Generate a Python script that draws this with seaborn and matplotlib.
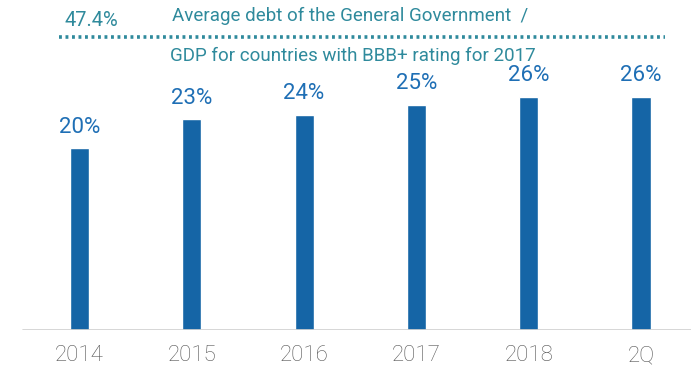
import matplotlib
matplotlib.use('Agg')
import matplotlib.pyplot as plt
import seaborn as sns
import pandas as pd

periods = ['2014', '2015', '2016', '2017', '2018', '2Q']
debt_share = [20.1, 23.3, 23.8, 24.9, 25.8, 25.8]
value_labels = ['20%', '23%', '24%', '25%', '26%', '26%']
bbb_level = 32.4
bbb_label = '47.4%'
bbb_text_top = 'Average debt of the General Government  /'
bbb_text_bottom = 'GDP for countries with BBB+ rating for 2017'

bar_color = '#1565a6'
label_color = '#1f6fb5'
teal = '#2f8a9c'

sns.set_style('white')
plt.rcParams['font.family'] = ['Roboto', 'DejaVu Sans']

df = pd.DataFrame({'period': periods, 'share': debt_share})

fig = plt.figure(figsize=(6.91, 3.71), dpi=100)
ax = fig.add_axes([0, 41 / 371, 1, 330 / 371])

sns.barplot(data=df, x='period', y='share', color=bar_color, width=0.17,
            saturation=1, ax=ax)

ax.set_xlim(-79.5 / 112.4, 5 + 50 / 112.4)
ax.set_ylim(0, 330 / 9.05)

for i, (v, lab) in enumerate(zip(debt_share, value_labels)):
    ax.text(i, v + 1.15, lab, ha='center', va='bottom', fontsize=16,
            color=label_color)

# baseline
ax.axhline(0, xmin=23 / 691, xmax=1, color='#d0d0d0', linewidth=1.2)

# reference line for BBB+ countries
ax.hlines(bbb_level, -0.18, 5.21, colors=teal, linewidth=2.6,
          linestyles=(0, (0.8, 1.0)))
ax.text(0.11, 34.25, bbb_label, ha='center', va='center', fontsize=14.5,
        color=teal)
ax.text(2.41, 34.75, bbb_text_top, ha='center', va='center', fontsize=13.5,
        color=teal)
ax.text(2.43, 30.3, bbb_text_bottom, ha='center', va='center', fontsize=13.5,
        color=teal)

ax.set_xlabel('')
ax.set_ylabel('')
ax.set_yticks([])
ax.tick_params(axis='x', length=0, pad=11, labelsize=16, labelcolor='#555555')
for t in ax.get_xticklabels():
    t.set_fontweight('light')
sns.despine(ax=ax, left=True, bottom=True)

fig.savefig('out.png', dpi=100)
